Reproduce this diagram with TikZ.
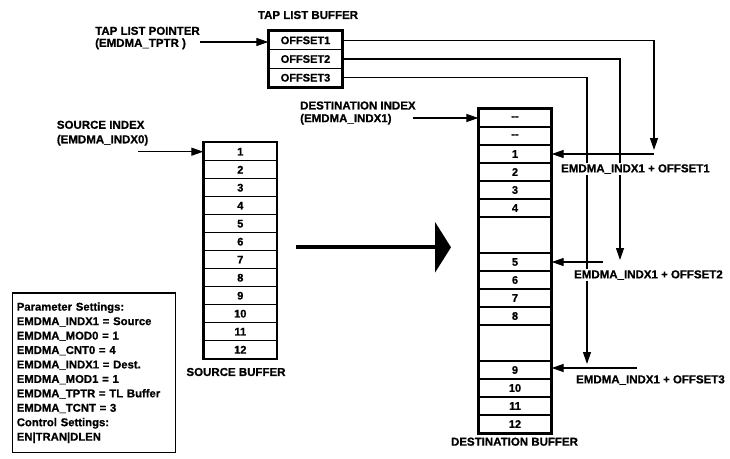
\documentclass[tikz,border=0pt]{standalone}
\usepackage{fontspec}
\setmainfont{Liberation Sans}[BoldFeatures={FakeBold=0.8}]
\usetikzlibrary{arrows.meta}
\begin{document}
\begin{tikzpicture}[x=1pt,y=-1pt,
  txt/.style={font=\bfseries\fontsize{11.5}{13}\selectfont, inner sep=0pt},
  cell/.style={draw, line width=1.3pt, minimum width=72pt, minimum height=18pt, inner sep=0pt, font=\bfseries\fontsize{11}{13}\selectfont},
  outer/.style={draw, line width=1.9pt},
  arr/.style={line width=1.2pt, -{Triangle[length=12pt,width=8pt]}},
  lbl/.style={font=\bfseries\fontsize{11.5}{13}\selectfont, fill=white, inner sep=1.5pt, anchor=west}
]
\useasboundingbox (0,0) rectangle (730,458);

% Tap list buffer
\node[txt] (tlbt) at (308,15) {TAP LIST BUFFER};
\node[cell, minimum width=73pt, minimum height=18.7pt] (t1) at (305.5,40.35) {OFFSET1};
\node[cell, minimum width=73pt, minimum height=18.7pt] (t2) at (305.5,59.05) {OFFSET2};
\node[cell, minimum width=73pt, minimum height=18.7pt] (t3) at (305.5,77.75) {OFFSET3};
\draw[outer] (t1.north west) rectangle (t3.south east);

\node[txt, anchor=west, align=left, font=\bfseries\fontsize{11.5}{12}\selectfont] (tlp) at (95,38) {TAP LIST POINTER\\(EMDMA\_TPTR )};
\coordinate (tlpa) at (200,42);
\draw[arr] (tlpa) -- (tlpa -| t1.west);

% Source buffer
\foreach \i in {1,...,12}
  \node[cell, minimum width=72.7pt] (s\i) at (240.3,{142.7+18*(\i-0.5)}) {\i};
\draw[outer] (s1.north west) rectangle (s12.south east);
\node[txt] (sbt) at (236,372) {SOURCE BUFFER};

\node[txt, anchor=west, align=left, font=\bfseries\fontsize{11.5}{14.5}\selectfont] (sit) at (56.7,133.2) {SOURCE INDEX\\(EMDMA\_INDX0)};
\coordinate (sia) at (138,151.7);
\draw[arr] (sia) -- (s1.west);

% Destination buffer
\foreach \n/\y/\t in {a/118/{-}{-}, b/136/{-}{-}, 1/154/1, 2/172/2, 3/190/3, 4/208/4, 5/262/5, 6/280/6, 7/298/7, 8/316/8, 9/370/9, 10/388/10, 11/406/11, 12/424/12}
  \node[cell] (d\n) at (515,\y) {\t};
\node[cell, minimum height=36pt] (de1) at (515,235) {};
\node[cell, minimum height=36pt] (de2) at (515,343) {};
\draw[outer] (da.north west) rectangle (d12.south east);
\node[txt] (dbt) at (514.5,441.7) {DESTINATION BUFFER};

\node[txt, anchor=west, align=left, font=\bfseries\fontsize{11.5}{12.7}\selectfont] (dit) at (300,113) {DESTINATION INDEX\\(EMDMA\_INDX1)};
\coordinate (dia) at (412.7,118);
\draw[arr] (dia) -- (da.west);

% Offset routing
\coordinate (v1) at (654,150);
\coordinate (v2) at (620,260);
\coordinate (v3) at (587,364);
\coordinate (h1) at (654,154);
\coordinate (h2) at (603,262);
\coordinate (h3) at (637,368);
\draw[arr] (t3.east) -| (v3);
\draw[arr] (t2.east) -| (v2);
\draw[arr] (t1.east) -| (v1);
\draw[arr] (h1) -- (d1.east);
\draw[arr] (h2) -- (d5.east);
\draw[arr] (h3) -- (h3 -| d9.east);

\node[lbl] (o1) at (559.5,169) {EMDMA\_INDX1 + OFFSET1};
\node[lbl] (o2) at (572.5,275) {EMDMA\_INDX1 + OFFSET2};
\node[lbl] (o3) at (574.5,380) {EMDMA\_INDX1 + OFFSET3};

% Big arrow
\coordinate (ba1) at (296,247.3);
\coordinate (ba2) at (451,247.3);
\draw[line width=4pt, -{Triangle[length=16pt,width=50pt]}] (ba1) -- (ba2);

% Parameter settings
\node[draw, line width=1.6pt, anchor=north west, text width=154.4pt, inner sep=4.3pt, minimum height=159.4pt, align=left, font=\bfseries\fontsize{11.3}{14.44}\selectfont] (ps) at (11.7,292.3)
{Parameter Settings:\\
EMDMA\_INDX1 = Source\\
EMDMA\_MOD0 = 1\\
EMDMA\_CNT0 = 4\\
EMDMA\_INDX1 = Dest.\\
EMDMA\_MOD1 = 1\\
EMDMA\_TPTR = TL Buffer\\
EMDMA\_TCNT = 3\\
Control Settings:\\
EN\textbar TRAN\textbar DLEN};
\end{tikzpicture}
\end{document}
